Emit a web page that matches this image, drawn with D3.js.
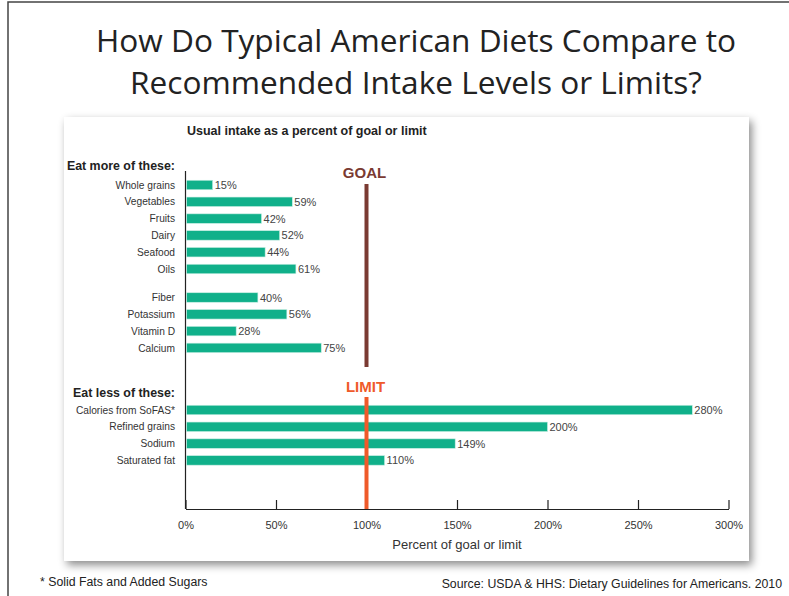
<!DOCTYPE html>
<html>
<head>
<meta charset="utf-8">
<script src="https://cdn.jsdelivr.net/npm/d3@7"></script>
<style>
  body { margin: 0; background: #fff; }
  svg { display: block; }
</style>
</head>
<body>
<div id="chart"></div>
<script>
// data
var moreFoods = ["Whole grains", "Vegetables", "Fruits", "Dairy", "Seafood", "Oils"];
var moreFoodsPct = [15, 59, 42, 52, 44, 61];
var moreNutrients = ["Fiber", "Potassium", "Vitamin D", "Calcium"];
var moreNutrientsPct = [40, 56, 28, 75];
var lessItems = ["Calories from SoFAS*", "Refined grains", "Sodium", "Saturated fat"];
var lessPct = [280, 200, 149, 110];
var xTicks = [0, 50, 100, 150, 200, 250, 300];

var width = 789, height = 596;

var svg = d3.select("#chart").append("svg")
    .attr("width", width)
    .attr("height", height)

// frame of the slide
svg.append("path")
    .attr("d", "M8,596 L8,2 L789,2")
    .attr("fill", "none")
    .attr("stroke", "#444")
    .attr("stroke-width", 1.5)

// title
var titleLines = ["How Do Typical American Diets Compare to", "Recommended Intake Levels or Limits?"];
svg.selectAll(".title")
    .data(titleLines)
    .enter().append("text")
    .attr("class", "title")
    .attr("x", 416)
    .attr("y", function(d, i) { return 52 + i * 42 })
    .attr("text-anchor", "middle")
    .attr("font-family", "'Open Sans', sans-serif")
    .attr("font-size", 31.6)
    .attr("fill", "#222")
    .text(function(d) { return d })

// panel with shadow
var defs = svg.append("defs");
var filt = defs.append("filter").attr("id", "shadow")
    .attr("x", "-10%").attr("y", "-10%").attr("width", "120%").attr("height", "120%");
filt.append("feDropShadow")
    .attr("dx", 3).attr("dy", 4)
    .attr("stdDeviation", 4)
    .attr("flood-color", "#000")
    .attr("flood-opacity", 0.45)

svg.append("rect")
    .attr("x", 64).attr("y", 117)
    .attr("width", 685).attr("height", 444)
    .attr("fill", "#fff")
    .attr("filter", "url(#shadow)")

var labelFont = "'Liberation Sans', Arial, sans-serif";

var x = d3.scaleLinear().domain([0, 300]).range([185.5, 728.5]);

var axisY = 509;

// header
svg.append("text")
    .attr("x", 187).attr("y", 135)
    .attr("font-family", labelFont)
    .attr("font-weight", "bold")
    .attr("font-size", 12.5)
    .attr("fill", "#222")
    .text("Usual intake as a percent of goal or limit")

// y axis line
svg.append("line")
    .attr("x1", x(0)).attr("x2", x(0))
    .attr("y1", 171).attr("y2", axisY)
    .attr("stroke", "#222")
    .attr("stroke-width", 1.2)

// x axis
var xAxis = d3.axisBottom(x)
    .tickValues(xTicks)
    .tickSize(0)
    .tickPadding(12)
    .tickFormat(function(d) { return d + "%" })

var gx = svg.append("g")
    .attr("transform", "translate(0," + axisY + ")")
    .call(xAxis)
gx.select(".domain").attr("stroke", "#222").attr("stroke-width", 1.2)
gx.selectAll(".tick text")
    .attr("font-family", labelFont)
    .attr("font-size", 11)
    .attr("fill", "#333")
gx.selectAll(".tick line").remove()
gx.selectAll(".tick").append("line")
    .attr("y1", 0).attr("y2", -9)
    .attr("stroke", "#222")
    .attr("stroke-width", 1.2)

svg.append("text")
    .attr("x", x(150)).attr("y", 549)
    .attr("text-anchor", "middle")
    .attr("font-family", labelFont)
    .attr("font-size", 13)
    .attr("fill", "#333")
    .text("Percent of goal or limit")

// section headers
var headers = [["Eat more of these:", 170], ["Eat less of these:", 397]];
svg.selectAll(".sect")
    .data(headers)
    .enter().append("text")
    .attr("class", "sect")
    .attr("x", 175)
    .attr("y", function(d) { return d[1] })
    .attr("text-anchor", "end")
    .attr("font-family", labelFont)
    .attr("font-weight", "bold")
    .attr("font-size", 12.4)
    .attr("fill", "#222")
    .text(function(d) { return d[0] })

// goal / limit lines
svg.append("line")
    .attr("x1", x(100)).attr("x2", x(100))
    .attr("y1", 184).attr("y2", 367)
    .attr("stroke", "#7a3a32")
    .attr("stroke-width", 4)
svg.append("text")
    .attr("x", x(100) - 2).attr("y", 178)
    .attr("text-anchor", "middle")
    .attr("font-family", labelFont)
    .attr("font-weight", "bold")
    .attr("font-size", 15)
    .attr("fill", "#7a3a32")
    .text("GOAL")

svg.append("text")
    .attr("x", x(100) - 1).attr("y", 392)
    .attr("text-anchor", "middle")
    .attr("font-family", labelFont)
    .attr("font-weight", "bold")
    .attr("font-size", 15)
    .attr("fill", "#ef5a2a")
    .text("LIMIT")

// bar groups
var step = 16.8, barH = 9.5;
var groups = [
    { names: moreFoods, vals: moreFoodsPct, top: 185 },
    { names: moreNutrients, vals: moreNutrientsPct, top: 297.5 },
    { names: lessItems, vals: lessPct, top: 410 }
];

groups.forEach(function(grp) {
    var y = d3.scaleBand()
        .domain(grp.names)
        .range([grp.top - step / 2, grp.top - step / 2 + step * grp.names.length])
        .paddingInner(0)
    var rows = grp.names.map(function(n, i) { return { name: n, v: grp.vals[i] } });

    var g = svg.append("g");
    g.selectAll("rect")
        .data(rows)
        .enter().append("rect")
        .attr("x", x(0) + 1)
        .attr("y", function(d) { return y(d.name) + (step - barH) / 2 })
        .attr("width", function(d) { return x(d.v) - x(0) - 1 })
        .attr("height", barH)
        .attr("fill", "#10b08a")
        .attr("stroke", "#c9eee3")
        .attr("stroke-width", 0.6)

    g.selectAll(".name")
        .data(rows)
        .enter().append("text")
        .attr("class", "name")
        .attr("x", 175)
        .attr("y", function(d) { return y(d.name) + step / 2 + 3.6 })
        .attr("text-anchor", "end")
        .attr("font-family", labelFont)
        .attr("font-size", 10.2)
        .attr("fill", "#333")
        .text(function(d) { return d.name })

    g.selectAll(".val")
        .data(rows)
        .enter().append("text")
        .attr("class", "val")
        .attr("x", function(d) { return x(d.v) + 2 })
        .attr("y", function(d) { return y(d.name) + step / 2 + 4 })
        .attr("font-family", labelFont)
        .attr("font-size", 11)
        .attr("fill", "#444")
        .text(function(d) { return d.v + "%" })
})

// limit line drawn over the bars
svg.append("line")
    .attr("x1", x(100)).attr("x2", x(100))
    .attr("y1", 397).attr("y2", axisY)
    .attr("stroke", "#ef5a2a")
    .attr("stroke-width", 4)

// footer
svg.append("text")
    .attr("x", 40).attr("y", 586)
    .attr("font-family", labelFont)
    .attr("font-size", 12.3)
    .attr("fill", "#222")
    .text("* Solid Fats and Added Sugars")

svg.append("text")
    .attr("x", 782).attr("y", 588)
    .attr("text-anchor", "end")
    .attr("font-family", labelFont)
    .attr("font-size", 12.3)
    .attr("fill", "#222")
    .text("Source: USDA & HHS: Dietary Guidelines for Americans. 2010")
</script>
</body>
</html>
